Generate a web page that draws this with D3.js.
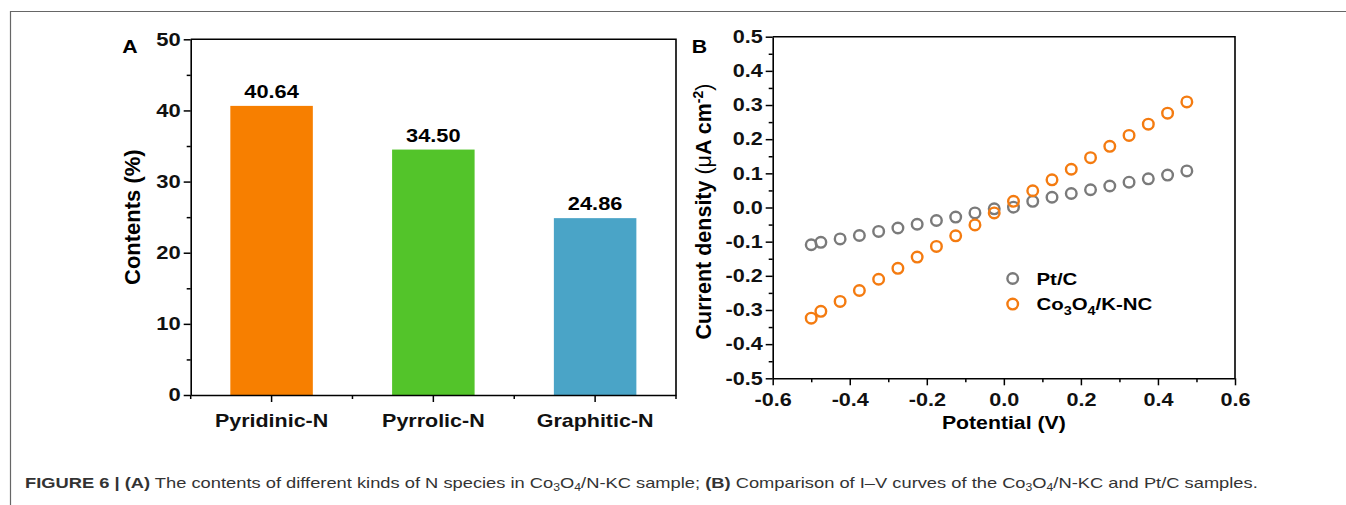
<!DOCTYPE html>
<html>
<head>
<meta charset="utf-8">
<script src="https://cdn.jsdelivr.net/npm/d3@7"></script>
<style>
    body { margin: 0; background: #fff; }
    svg { display: block; font-family: "Liberation Sans", Arial, sans-serif; }
</style>
</head>
<body>
<div id="main"></div>
<script>
// panel A data
const categories = ["Pyridinic-N", "Pyrrolic-N", "Graphitic-N"];
const contents = [40.64, 34.50, 24.86];
const barColors = ["#f77f00", "#53c42a", "#4aa4c7"];
const contentTicks = [0, 10, 20, 30, 40, 50];

// panel B data
const potential = [-0.5, -0.475, -0.425, -0.375, -0.325, -0.275, -0.225, -0.175, -0.125, -0.075, -0.025,
    0.025, 0.075, 0.125, 0.175, 0.225, 0.275, 0.325, 0.375, 0.425, 0.475];
const ptcCurrent = [-0.109, -0.102, -0.092, -0.082, -0.070, -0.060, -0.049, -0.038, -0.028, -0.016, -0.004,
    0.001, 0.018, 0.030, 0.041, 0.052, 0.063, 0.074, 0.084, 0.095, 0.107];
const cokncCurrent = [-0.324, -0.304, -0.275, -0.243, -0.210, -0.178, -0.145, -0.114, -0.083, -0.051, -0.016,
    0.018, 0.049, 0.081, 0.112, 0.146, 0.179, 0.211, 0.244, 0.276, 0.309];
const potentialTicks = [-0.6, -0.4, -0.2, 0.0, 0.2, 0.4, 0.6];
const currentTicks = [-0.5, -0.4, -0.3, -0.2, -0.1, 0.0, 0.1, 0.2, 0.3, 0.4, 0.5];

const width = 1346;
const height = 505;

const svg = d3.select("#main")
    .append("svg")
    .attr("width", width)
    .attr("height", height);

// the source figure is a bit wider than tall, so text is stretched sideways
function stretch(sel, k) {
    sel.each(function () {
        const len = this.getComputedTextLength();
        d3.select(this)
            .attr("textLength", len * k)
            .attr("lengthAdjust", "spacingAndGlyphs");
    });
}

// outer figure frame (only left and top show)
svg.append("path")
    .attr("d", `M10.5,${height} V11.5 H${width}`)
    .attr("fill", "none")
    .attr("stroke", "#666")
    .attr("stroke-width", 1.2);

const tickFont = "18px";
const fontFamily = "Liberation Sans, Arial, sans-serif";
const axisWidth = 1.6;

function styleAxis(g) {
    g.selectAll(".domain").attr("stroke-width", axisWidth);
    g.selectAll(".tick line").attr("stroke-width", 1.5);
    g.selectAll("text")
        .attr("font-size", tickFont)
        .attr("font-weight", "bold")
        .attr("font-family", fontFamily)
        .attr("fill", "#111");
}

// ---------- panel A ----------
const aLeft = 190.7, aRight = 676, aTop = 39.3, aBottom = 395;

const xBand = d3.scaleBand()
    .domain(categories)
    .range([aLeft, aRight])
    .padding(0);

const yA = d3.scaleLinear()
    .domain([0, 50])
    .range([aBottom, aTop]);

const panelA = svg.append("g");

//bars
panelA.selectAll("rect.bar")
    .data(categories)
    .enter()
    .append("rect")
    .attr("class", "bar")
    .attr("x", d => xBand(d) + xBand.bandwidth() * 0.245)
    .attr("width", xBand.bandwidth() * 0.51)
    .attr("y", (d, i) => yA(contents[i]))
    .attr("height", (d, i) => yA(0) - yA(contents[i]))
    .attr("fill", (d, i) => barColors[i]);

//value labels
panelA.selectAll("text.value")
    .data(categories)
    .enter()
    .append("text")
    .attr("class", "value")
    .attr("x", d => xBand(d) + xBand.bandwidth() / 2)
    .attr("y", (d, i) => yA(contents[i]) - 8)
    .attr("text-anchor", "middle")
    .attr("font-weight", "bold")
    .attr("font-size", tickFont)
    .text((d, i) => contents[i].toFixed(2))
    .call(stretch, 1.21);

//left axis with minor ticks
panelA.append("g")
    .attr("transform", `translate(${aLeft},0)`)
    .call(d3.axisLeft(yA).tickValues(d3.range(5, 50, 10)).tickSize(4).tickFormat(""))
    .call(g => g.select(".domain").remove())
    .call(styleAxis);

panelA.append("g")
    .attr("transform", `translate(${aLeft},0)`)
    .call(d3.axisLeft(yA).tickValues(contentTicks).tickSize(7).tickSizeOuter(0).tickPadding(3))
    .call(styleAxis)
    .call(g => g.selectAll("text").call(stretch, 1.22));

//bottom axis, minor ticks on band edges
const bandEdges = [0, 1, 2, 3].map(i => aLeft + i * xBand.step());
panelA.selectAll("line.edge")
    .data(bandEdges)
    .enter()
    .append("line")
    .attr("class", "edge")
    .attr("x1", d => d).attr("x2", d => d)
    .attr("y1", aBottom).attr("y2", aBottom + 4)
    .attr("stroke", "#000")
    .attr("stroke-width", 1.5);

panelA.append("g")
    .attr("transform", `translate(0,${aBottom})`)
    .call(d3.axisBottom(xBand).tickSize(7).tickSizeOuter(0).tickPadding(12))
    .call(styleAxis)
    .call(g => g.selectAll("text").attr("font-size", "19px").call(stretch, 1.13));

//top + right frame
panelA.append("path")
    .attr("d", `M${aLeft},${aTop} H${aRight} V${aBottom}`)
    .attr("fill", "none")
    .attr("stroke", "#000")
    .attr("stroke-width", axisWidth);

panelA.append("text")
    .attr("x", 130)
    .attr("y", 53)
    .attr("text-anchor", "middle")
    .attr("font-weight", "bold")
    .attr("font-size", "18.5px")
    .text("A")
    .call(stretch, 1.15);

panelA.append("text")
    .attr("transform", `translate(132,${(aTop + aBottom) / 2}) rotate(-90)`)
    .attr("dy", "0.35em")
    .attr("text-anchor", "middle")
    .attr("font-weight", "bold")
    .attr("font-size", "22px")
    .text("Contents (%)");

// ---------- panel B ----------
const bLeft = 772.7, bRight = 1235, bTop = 36.7, bBottom = 378.3;

const xB = d3.scaleLinear()
    .domain([-0.6, 0.6])
    .range([bLeft, bRight]);

const yB = d3.scaleLinear()
    .domain([-0.5, 0.5])
    .range([bBottom, bTop]);

const panelB = svg.append("g");
const fmt = d => d3.format(".1f")(d).replace("\u2212", "-");

//minor ticks
panelB.append("g")
    .attr("transform", `translate(${bLeft},0)`)
    .call(d3.axisLeft(yB).tickValues(d3.range(-0.45, 0.5, 0.1)).tickSize(4).tickFormat(""))
    .call(g => g.select(".domain").remove())
    .call(styleAxis);

panelB.append("g")
    .attr("transform", `translate(0,${bBottom})`)
    .call(d3.axisBottom(xB).tickValues(d3.range(-0.5, 0.6, 0.2)).tickSize(4).tickFormat(""))
    .call(g => g.select(".domain").remove())
    .call(styleAxis);

//major ticks
panelB.append("g")
    .attr("transform", `translate(${bLeft},0)`)
    .call(d3.axisLeft(yB).tickValues(currentTicks).tickSize(7).tickSizeOuter(0).tickPadding(3).tickFormat(fmt))
    .call(styleAxis)
    .call(g => g.selectAll("text").call(stretch, 1.2));

panelB.append("g")
    .attr("transform", `translate(0,${bBottom})`)
    .call(d3.axisBottom(xB).tickValues(potentialTicks).tickSize(7).tickSizeOuter(0).tickPadding(8).tickFormat(fmt))
    .call(styleAxis)
    .call(g => g.selectAll("text").call(stretch, 1.2));

panelB.append("path")
    .attr("d", `M${bLeft},${bTop} H${bRight} V${bBottom}`)
    .attr("fill", "none")
    .attr("stroke", "#000")
    .attr("stroke-width", axisWidth);

//scatter
const series = [
    { name: "Pt/C", values: ptcCurrent, color: "#7a7a7a" },
    { name: "Co3O4/K-NC", values: cokncCurrent, color: "#f47b10" }
];

series.forEach(s => {
    panelB.append("g")
        .selectAll("circle")
        .data(potential)
        .enter()
        .append("circle")
        .attr("cx", d => xB(d))
        .attr("cy", (d, i) => yB(s.values[i]))
        .attr("r", 5.3)
        .attr("fill", "none")
        .attr("stroke", s.color)
        .attr("stroke-width", 2.4);
});

//legend
const legend = panelB.append("g");
series.forEach((s, i) => {
    const ly = 278.5 + i * 25.6;
    legend.append("circle")
        .attr("cx", 1012.7)
        .attr("cy", ly)
        .attr("r", 5.3)
        .attr("fill", "none")
        .attr("stroke", s.color)
        .attr("stroke-width", 2.4);
    const label = legend.append("text")
        .attr("x", 1036.5)
        .attr("y", ly + 6)
        .attr("font-weight", "bold")
        .attr("font-size", "17px");
    if (s.name === "Pt/C") {
        label.text("Pt/C");
    } else {
        label.append("tspan").text("Co");
        label.append("tspan").attr("font-size", "12px").attr("dy", 4.5).text("3");
        label.append("tspan").attr("dy", -4.5).text("O");
        label.append("tspan").attr("font-size", "12px").attr("dy", 4.5).text("4");
        label.append("tspan").attr("dy", -4.5).text("/K-NC");
    }
    label.call(stretch, 1.2);
});

panelB.append("text")
    .attr("x", 699.5)
    .attr("y", 53)
    .attr("text-anchor", "middle")
    .attr("font-weight", "bold")
    .attr("font-size", "18.5px")
    .text("B")
    .call(stretch, 1.15);

panelB.append("text")
    .attr("x", (bLeft + bRight) / 2)
    .attr("y", 429)
    .attr("text-anchor", "middle")
    .attr("font-weight", "bold")
    .attr("font-size", "18px")
    .text("Potential (V)")
    .call(stretch, 1.18);

const yTitle = panelB.append("text")
    .attr("transform", `translate(703,${(bTop + bBottom) / 2 + 4}) rotate(-90)`)
    .attr("dy", "0.35em")
    .attr("text-anchor", "middle")
    .attr("font-size", "21.5px");
yTitle.append("tspan").attr("font-weight", "bold").text("Current density ");
yTitle.append("tspan").text("(\u03bc");
yTitle.append("tspan").attr("font-weight", "bold").text("A cm");
yTitle.append("tspan").attr("font-weight", "bold").attr("font-size", "14px").attr("dy", -8).text("-2");
yTitle.append("tspan").attr("dy", 8).text(")");

// ---------- caption ----------
const caption = svg.append("text")
    .attr("x", 25)
    .attr("y", 488)
    .attr("font-size", "15px")
    .attr("fill", "#333");
caption.append("tspan").attr("font-weight", "bold").text("FIGURE 6 | (A)");
caption.append("tspan").text(" The contents of different kinds of N species in Co");
caption.append("tspan").attr("font-size", "10px").attr("dy", 3).text("3");
caption.append("tspan").attr("dy", -3).text("O");
caption.append("tspan").attr("font-size", "10px").attr("dy", 3).text("4");
caption.append("tspan").attr("dy", -3).text("/N-KC sample; ");
caption.append("tspan").attr("font-weight", "bold").text("(B)");
caption.append("tspan").text(" Comparison of I\u2013V curves of the Co");
caption.append("tspan").attr("font-size", "10px").attr("dy", 3).text("3");
caption.append("tspan").attr("dy", -3).text("O");
caption.append("tspan").attr("font-size", "10px").attr("dy", 3).text("4");
caption.append("tspan").attr("dy", -3).text("/N-KC and Pt/C samples.");
caption.call(stretch, 1.22);
</script>
</body>
</html>
